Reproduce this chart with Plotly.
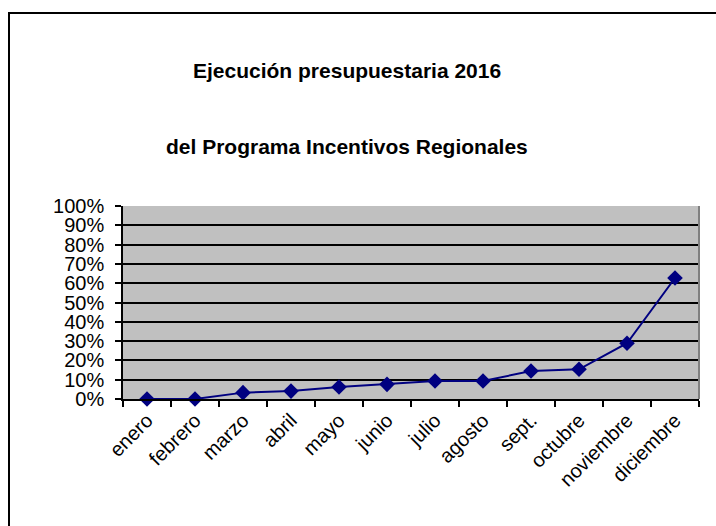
import plotly.graph_objects as go

months = ["enero", "febrero", "marzo", "abril", "mayo", "junio", "julio",
          "agosto", "sept.", "octubre", "noviembre", "diciembre"]
execution = [0.0, 0.0, 0.033, 0.041, 0.062, 0.076, 0.093, 0.093,
             0.145, 0.154, 0.289, 0.627]
y_ticks = [i / 10 for i in range(11)]
title_line1 = "Ejecución presupuestaria 2016"
title_line2 = "del Programa Incentivos Regionales"

W, H = 716, 526
L, R, T, B = 123, 17, 206, 127
pw, ph = W - L - R, H - T - B

def px_x(x):
    return (x - L) / pw

def px_y(y):
    return (H - B - y) / ph

fig = go.Figure()
fig.add_trace(go.Scatter(
    x=months, y=execution, mode="lines+markers",
    line=dict(color="#000080", width=2),
    marker=dict(symbol="diamond", size=12, color="#000080"),
    cliponaxis=False, showlegend=False,
))

font = "Liberation Sans, Arial, sans-serif"
fig.update_layout(
    width=W, height=H,
    margin=dict(l=L, r=R, t=T, b=B),
    paper_bgcolor="white",
    plot_bgcolor="#C0C0C0",
    font=dict(family=font, color="black"),
    xaxis=dict(
        type="category", tickson="boundaries", ticks="outside", ticklen=6,
        tickcolor="black", tickwidth=1.5, showline=True, linecolor="black",
        linewidth=1.5, showgrid=False, tickangle=-45,
        tickfont=dict(size=20, family=font, color="black"),
        range=[-0.5, 11.5],
    ),
    yaxis=dict(
        range=[0, 1], tickvals=y_ticks, tickformat=".0%", ticks="outside",
        ticklen=6, tickcolor="black", tickwidth=1.5, showline=True,
        linecolor="black", linewidth=1.5, showgrid=True, gridcolor="black",
        gridwidth=1.5, zeroline=False, ticklabelstandoff=7,
        tickfont=dict(size=20, family=font, color="black"),
    ),
    annotations=[
        dict(text="<b>" + title_line1 + "</b>", xref="paper", yref="paper",
             x=px_x(347), y=px_y(70), showarrow=False,
             font=dict(size=21, family=font, color="black"),
             xanchor="center", yanchor="middle"),
        dict(text="<b>" + title_line2 + "</b>", xref="paper", yref="paper",
             x=px_x(347), y=px_y(146), showarrow=False,
             font=dict(size=21, family=font, color="black"),
             xanchor="center", yanchor="middle"),
    ],
    shapes=[
        dict(type="line", xref="paper", yref="paper", x0=1, x1=1, y0=0, y1=1,
             line=dict(color="#808080", width=2)),
        dict(type="line", xref="paper", yref="paper",
             x0=px_x(8), x1=px_x(716), y0=px_y(13), y1=px_y(13),
             line=dict(color="black", width=2)),
        dict(type="line", xref="paper", yref="paper",
             x0=px_x(9), x1=px_x(9), y0=px_y(12), y1=px_y(526),
             line=dict(color="black", width=2)),
    ],
)

fig.write_html(
    "out.html",
    config={"displayModeBar": False},
    post_script="document.body.style.margin='0';"
                "document.body.style.overflow='hidden';",
)
